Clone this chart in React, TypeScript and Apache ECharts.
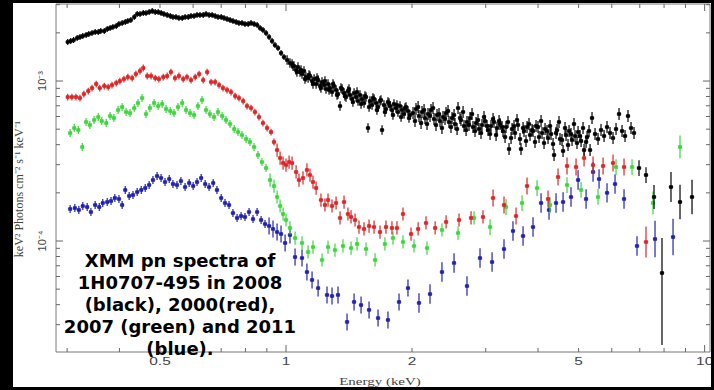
import React, { useEffect, useRef } from "react";
import * as echarts from "echarts";

// Axis extents (keV, keV^2 Photons cm^-2 s^-1 keV^-1)
const X_MIN = 0.2822;
const X_MAX = 10.3;
const Y_MIN = 2.024e-5;
const Y_MAX = 3.03e-3;
const FLUX_UNIT = 1e-4; // flux values below are in units of 1e-4

const xLabelValues = [0.5, 1, 2, 5, 10];
const xTickLabels = ["0.5", "1", "2", "5", "10"];
const xMajorTicks = [1, 10];
const xMinorTicks = [0.3, 0.4, 0.5, 0.6, 0.7, 0.8, 0.9, 2, 3, 4, 5, 6, 7, 8, 9];
const yLabelValues = [1e-3, 1e-4];
const yTickLabels = ["10\u207B\u00B3", "10\u207B\u2074"];
const yMajorTicks = [1e-4, 1e-3];
const yMinorTicks = [3e-5, 4e-5, 5e-5, 6e-5, 7e-5, 8e-5, 9e-5, 2e-4, 3e-4, 4e-4, 5e-4, 6e-4, 7e-4, 8e-4, 9e-4, 2e-3, 3e-3];

const annotation = "XMM pn spectra of\n1H0707-495 in 2008\n(black), 2000(red),\n2007 (green) and 2011\n(blue).";

// error bar size (multiplicative) per energy band: [upper energy, factor]
const blackErrBands = [[1.0, 1.045], [2.0, 1.07], [6.9, 1.09], [20, 1.13]];
const redErrBands = [[0.95, 1.05], [3.0, 1.1], [7.0, 1.13], [20, 1.25]];
const greenErrBands = [[0.9, 1.06], [3.0, 1.1], [7.0, 1.12], [20, 1.18]];
const blueErrBands = [[0.9, 1.06], [2.0, 1.13], [7.0, 1.15], [20, 1.3]];

// [energy keV, flux (1e-4), optional err up, optional err down]
const blackSpectrum = [
  [0.301,17.53],[0.306,17.78],[0.311,18.04],[0.317,18.57],[0.322,18.84],[0.327,19.11],[0.333,19.39],[0.338,19.67],
  [0.344,19.95],[0.350,20.24],[0.356,20.24],[0.361,20.54],[0.368,20.54],[0.374,21.13],[0.380,21.44],[0.386,21.76],
  [0.393,22.07],[0.399,22.71],[0.406,23.04],[0.413,23.38],[0.419,23.71],[0.426,24.06],[0.434,25.12],[0.441,26.23],
  [0.448,26.23],[0.456,26.61],[0.463,26.61],[0.471,26.99],[0.479,27.38],[0.487,26.99],[0.495,26.99],[0.503,26.61],
  [0.511,26.23],[0.520,25.86],[0.529,25.49],[0.537,25.12],[0.546,25.12],[0.555,24.76],[0.565,24.76],[0.574,25.12],
  [0.584,25.12],[0.593,25.49],[0.603,25.49],[0.613,25.86],[0.623,25.86],[0.634,25.86],[0.644,26.23],[0.655,25.86],
  [0.666,25.86],[0.677,25.49],[0.688,25.12],[0.700,25.12],[0.711,24.76],[0.723,24.41],[0.735,24.06],[0.747,23.71],
  [0.760,23.38],[0.772,23.04],[0.785,23.04],[0.798,22.71],[0.812,22.71],[0.825,23.04],[0.839,22.71],[0.853,22.39],
  [0.867,21.44],[0.881,20.84],[0.896,19.95],[0.911,18.84],[0.926,17.78],[0.941,16.79],[0.957,16.08],[0.973,14.96],
  [0.989,14.13],[1.006,13.53],[1.022,12.96],
  [1.034,12.77],[1.045,12.41],[1.057,11.72],[1.068,12.23],[1.080,11.38],[1.092,11.06],[1.104,11.55],[1.116,10.59],
  [1.129,10.44],[1.141,10.75],[1.154,10.0],[1.167,10.29],[1.180,9.577],[1.193,10.14],[1.206,9.306],[1.219,9.857],
  [1.233,9.441],[1.246,8.913],[1.260,9.577],[1.274,9.042],[1.288,8.536],[1.302,9.306],[1.317,8.786],[1.331,8.294],
  [1.346,6.978],[1.361,8.913],[1.376,8.414],[1.391,7.943],[1.406,8.660],[1.422,8.176],[1.438,7.718],[1.454,8.414],
  [1.470,7.943],[1.486,7.499],[1.502,8.176],[1.519,7.718],[1.536,7.286],[1.553,7.943],[1.570,5.085],[1.587,7.499],
  [1.605,7.079],[1.623,7.718],[1.641,7.286],[1.659,6.878],[1.677,7.499],[1.696,4.940],[1.714,7.079],[1.733,6.683],
  [1.752,7.391],[1.772,6.978],[1.791,6.588],[1.811,7.182],[1.831,6.780],[1.851,6.401],[1.872,6.978],[1.893,6.588],
  [1.914,6.219],[1.935,6.878],[1.956,6.494],[1.978,6.131],
  [2.011,6.310],[2.044,6.683],[2.078,6.043],[2.113,6.401],[2.148,5.872],[2.184,6.219],[2.220,6.588],[2.257,5.788],
  [2.295,6.131],[2.333,5.623],[2.372,5.957],[2.411,6.310],[2.451,5.543],[2.492,5.872],[2.533,5.386],[2.576,6.780],
  [2.618,5.705],[2.662,5.233],[2.706,5.543],[2.751,5.872],[2.797,5.158],[2.844,5.464],[2.891,5.012],[2.939,5.309],
  [2.988,5.623],[3.038,4.940],[3.088,5.233],[3.140,5.543],[3.192,5.085],[3.245,5.386],[3.299,4.870],[3.354,5.158],
  [3.410,3.758],[3.467,5.012],[3.524,4.732],[3.583,5.309],[3.642,3.758],[3.703,4.870],[3.765,5.158],[3.827,4.597],
  [3.891,4.870],[3.956,5.233],[4.022,4.467],[4.089,4.732],[4.157,5.012],[4.226,4.403],[4.296,4.664],[4.368,3.447],
  [4.441,4.940],[4.514,4.340],[4.590,3.652],[4.666,4.597],[4.744,4.870],[4.823,4.278],[4.903,4.532],[4.985,4.800],
  [5.068,4.217],[5.152,3.704],[5.238,4.467],[5.325,3.704],[5.383,5.872],[5.473,4.664],[5.564,4.340],[5.656,4.940],
  [5.751,4.532],[5.846,5.158],[5.943,4.732],[6.042,4.403],[6.143,5.012],[6.245,6.219],[6.349,4.870],[6.455,4.532],
  [6.561,6.043],[6.671,5.085],[6.782,4.732],
  [6.970,2.858,1.12],[7.244,2.585,1.12],[7.570,1.884,1.19],[7.910,0.631,1.655,2.82],[8.311,2.175,1.24],
  [8.734,1.753,1.28],[9.330,1.884,1.28],
];

// interleaved black bins in the 1-5.3 keV cloud
const blackSpectrumDense = [
  [1.039,12.41],[1.062,11.38],[1.086,11.72],[1.110,10.29],[1.135,10.90],[1.160,9.577],[1.186,10.44],[1.212,9.042],
  [1.239,10.0],[1.267,8.786],[1.295,9.577],[1.324,8.176],[1.353,9.042],[1.383,8.058],[1.414,8.913],[1.445,7.391],
  [1.478,8.536],[1.511,7.182],[1.544,8.058],[1.579,6.878],[1.613,7.830],[1.649,6.588],[1.686,7.607],[1.723,6.401],
  [1.762,7.286],[1.801,6.131],[1.841,7.079],[1.883,5.957],[1.924,6.780],[1.967,5.872],
  [2.033,5.623],[2.068,6.878],[2.102,5.464],[2.137,6.588],[2.172,5.386],[2.208,6.043],[2.245,6.780],[2.282,5.309],
  [2.320,6.219],[2.358,5.085],[2.398,5.788],[2.438,6.494],[2.478,5.158],[2.520,6.131],[2.562,5.012],[2.604,5.872],
  [2.648,6.401],[2.692,4.940],[2.736,5.309],[2.782,6.219],[2.828,4.870],[2.875,5.705],[2.923,4.732],[2.972,5.957],
  [3.021,5.233],[3.072,4.664],[3.123,5.788],[3.175,4.597],[3.228,5.623],[3.281,5.158],[3.336,4.467],[3.391,5.543],
  [3.448,4.403],[3.505,5.233],[3.563,5.705],[3.622,4.340],[3.683,5.085],[3.744,4.217],[3.806,5.386],[3.870,4.940],
  [3.934,4.157],[3.999,5.158],[4.067,5.623],[4.134,4.097],[4.203,4.870],[4.273,5.233],[4.344,4.038],[4.416,4.732],
  [4.489,5.543],[4.564,4.278],[4.640,5.085],[4.717,3.981],[4.795,4.664],[4.875,5.386],[4.956,4.097],[5.039,4.532],
  [5.123,5.085],[5.209,4.157],[5.295,4.870],
];

const redSpectrum = [
  [0.301,7.943],[0.308,7.943],[0.315,7.943],[0.322,7.830],[0.329,8.294],[0.337,8.660],[0.344,9.042],[0.352,9.577],
  [0.359,9.042],[0.368,9.306],[0.376,9.173],[0.384,9.441],[0.393,9.716],[0.401,10.0],[0.410,10.29],[0.419,10.59],
  [0.429,10.44],[0.438,11.06],[0.448,11.55],[0.456,12.06],[0.466,10.75],[0.476,10.75],[0.487,10.44],[0.497,10.29],
  [0.509,10.59],[0.520,10.75],[0.531,11.38],[0.543,10.44],[0.555,10.75],[0.568,10.29],[0.580,10.59],[0.593,10.14],
  [0.607,10.59],[0.620,11.06],[0.634,10.14],[0.648,11.38],[0.662,9.857],[0.677,9.857],[0.692,9.441],[0.707,9.042],
  [0.723,8.786],[0.739,8.536],[0.756,8.058],[0.772,7.830],[0.790,7.499],[0.807,6.978],[0.825,6.780],[0.843,6.401],
  [0.862,5.957],[0.881,5.464],[0.901,5.085],[0.921,4.800],[0.936,4.157],[0.952,3.704],[0.968,3.302],[0.984,3.073],
  [1.000,2.985],[1.017,3.117],[1.034,3.073],[1.057,2.700],[1.074,2.406],[1.098,2.477],[1.122,2.780],[1.141,2.585],
  [1.160,2.337],[1.180,2.144],[1.212,1.804],[1.239,1.679],[1.260,1.804],[1.288,1.655],[1.317,1.728],[1.346,1.393],
  [1.376,1.753],[1.406,1.475],[1.430,1.413],[1.462,1.353],[1.494,1.223],[1.536,1.189],[1.579,1.241],[1.623,1.223],
  [1.677,1.138],[1.733,1.223],[1.791,1.206],[1.841,1.206],[1.903,1.475],[1.989,1.106],[2.068,1.189],[2.160,1.296],
  [2.271,1.206],[2.412,1.315],[2.590,1.353],[2.767,1.393],[2.955,1.413],[3.123,1.857],[3.317,1.679],[3.544,1.433],
  [3.765,2.207],[4.226,1.831],[4.465,2.512],[4.691,2.943],[4.930,2.901],[5.152,3.302],[5.413,2.985],[5.720,2.943],
  [6.042,3.073],[6.419,2.901],[7.244,0.986],
];

const greenSpectrum = [
  [0.305,4.732],[0.312,5.085],[0.319,4.940],[0.326,3.868],[0.333,5.543],[0.340,5.309],[0.348,5.705],[0.356,5.957],
  [0.363,5.623],[0.372,5.464],[0.380,6.043],[0.388,5.872],[0.397,6.588],[0.406,6.878],[0.415,6.401],[0.424,6.310],
  [0.434,6.780],[0.443,7.286],[0.453,7.830],[0.463,6.219],[0.473,6.780],[0.484,7.286],[0.495,6.978],[0.506,7.182],
  [0.517,6.683],[0.529,6.494],[0.540,6.310],[0.552,6.878],[0.565,7.286],[0.577,6.588],[0.590,6.310],[0.603,6.131],
  [0.616,6.978],[0.630,7.607],[0.644,6.588],[0.658,6.219],[0.673,5.957],[0.688,6.401],[0.704,6.043],[0.719,5.705],
  [0.735,5.386],[0.752,5.012],[0.768,4.800],[0.785,4.597],[0.803,4.340],[0.820,4.157],[0.839,3.868],[0.857,3.447],
  [0.876,3.117],[0.896,2.858],[0.916,2.406],[0.936,2.207],[0.952,1.884],[0.968,1.655],[0.984,1.475],[1.000,1.353],
  [1.022,1.206],[1.051,1.044],[1.092,0.972],[1.129,0.854],[1.160,0.917],[1.219,0.761],[1.260,0.917],[1.309,0.878],
  [1.368,0.931],[1.430,0.904],[1.478,0.958],[1.553,0.891],[1.632,0.761],[1.723,0.958],[1.801,1.044],[1.903,0.986],
  [2.022,0.931],[2.172,0.904],[2.358,1.172],[2.576,1.122],[2.813,1.393],[3.072,1.223],[3.354,1.631],[3.663,1.728],
  [3.978,2.144],[4.273,1.679],[4.691,2.239],[5.068,2.084],[5.564,1.884],[6.143,2.901],[6.708,2.901],[7.528,1.728],
  [8.734,3.868],
];

const blueSpectrum = [
  [0.305,1.585],[0.313,1.608],[0.320,1.563],[0.327,1.655],[0.335,1.631],[0.342,1.518],[0.350,1.679],[0.358,1.631],
  [0.365,1.728],[0.374,1.753],[0.382,1.778],[0.390,1.857],[0.399,1.831],[0.406,1.679],[0.413,2.084],[0.422,1.911],
  [0.431,1.939],[0.441,2.024],[0.451,2.084],[0.461,2.144],[0.471,2.239],[0.481,2.406],[0.492,2.548],[0.503,2.477],
  [0.514,2.337],[0.526,2.441],[0.537,2.271],[0.549,2.239],[0.561,2.371],[0.574,2.175],[0.587,2.304],[0.600,2.207],
  [0.613,2.337],[0.627,2.477],[0.641,2.271],[0.655,2.175],[0.670,2.304],[0.684,2.084],[0.700,1.857],[0.715,1.728],
  [0.731,1.679],[0.747,1.496],[0.764,1.393],[0.781,1.433],[0.798,1.413],[0.816,1.518],[0.834,1.372],[0.853,1.518],
  [0.872,1.353],[0.891,1.277],[0.911,1.241],[0.931,1.189],[0.952,1.138],[0.973,1.106],[0.995,0.972],[1.022,1.090],
  [1.051,0.794],[1.092,0.783],[1.122,0.640],[1.154,0.571],[1.193,0.508],[1.253,0.460],[1.288,0.453],[1.331,0.460],
  [1.399,0.312],[1.454,0.416],[1.511,0.398],[1.579,0.371],[1.659,0.330],[1.752,0.321],[1.862,0.416],[1.956,0.508],
  [2.078,0.410],[2.208,0.466],[2.358,0.640],[2.520,0.729],[2.706,0.523],[2.907,0.783],[3.106,0.739],[3.317,0.891],
  [3.485,1.155],[3.683,1.075],[3.891,1.223],[4.067,1.728],[4.249,1.563],[4.416,1.728],[4.590,1.753],[4.795,1.884],
  [4.985,2.406],[5.209,1.831],[5.413,2.700],[5.595,2.441],[5.846,2.0],[6.109,2.271],[6.419,1.831],[6.894,0.931],
  [7.612,1.029],[8.405,1.059],
];

const seriesDefs = [
  { name: "2011", color: "#2222b0", data: blueSpectrum, bands: blueErrBands },
  { name: "2007", color: "#3ad83a", data: greenSpectrum, bands: greenErrBands },
  { name: "2000", color: "#de2424", data: redSpectrum, bands: redErrBands },
  { name: "2008", color: "#000000", data: blackSpectrum.concat(blackSpectrumDense), bands: blackErrBands },
];

function bandErr(bands: number[][], e: number) {
  for (const b of bands) if (e <= b[0]) return b[1];
  return bands[bands.length - 1][1];
}

function prep(def: any) {
  return def.data.map((p: number[]) => {
    const up = p.length > 2 ? p[2] : bandErr(def.bands, p[0]);
    const dn = p.length > 3 ? p[3] : up;
    return [p[0], p[1] * FLUX_UNIT, up, dn];
  });
}

function spectrumRender(color: string) {
  return (params: any, api: any) => {
    const e = api.value(0);
    const f = api.value(1);
    const up = api.value(2);
    const dn = api.value(3);
    const c = api.coord([e, f]);
    const t = api.coord([e, f * up]);
    const b = api.coord([e, f / dn]);
    return {
      type: "group",
      children: [
        { type: "line", shape: { x1: c[0], y1: t[1], x2: c[0], y2: b[1] }, style: { stroke: color, lineWidth: 1.2 } },
        { type: "line", shape: { x1: c[0] - 2.2, y1: c[1], x2: c[0] + 2.2, y2: c[1] }, style: { stroke: color, lineWidth: 1.2 } },
        { type: "rect", shape: { x: c[0] - 1.8, y: c[1] - 1.8, width: 3.6, height: 3.6 }, style: { fill: color } },
      ],
    };
  };
}

const TICK_COLOR = "#666";
const LABEL_COLOR = "#444";

export default function App() {
  const ref = useRef<HTMLDivElement>(null);
  useEffect(() => {
    if (!ref.current) return;
    const chart = echarts.init(ref.current, undefined, { renderer: "svg" });

    const xTickData = [
      ...xMajorTicks.map((v) => [v, Y_MIN, 7]),
      ...xMinorTicks.map((v) => [v, Y_MIN, 4]),
    ];
    const yTickData = [
      ...yMajorTicks.map((v) => [X_MIN, v, 7]),
      ...yMinorTicks.map((v) => [X_MIN, v, 4]),
    ];

    const dataSeries = seriesDefs.map((d) => ({
      type: "custom",
      name: d.name,
      coordinateSystem: "cartesian2d",
      data: prep(d),
      encode: { x: 0, y: 1 },
      renderItem: spectrumRender(d.color),
      clip: true,
      z: 2,
    }));

    chart.setOption({
      animation: false,
      backgroundColor: "#ffffff",
      grid: { left: 56, right: 4, top: 4, bottom: 38, show: true, borderColor: "#777", borderWidth: 1, backgroundColor: "transparent" },
      xAxis: {
        type: "log", logBase: 10, min: X_MIN, max: X_MAX,
        axisLine: { show: false }, axisTick: { show: false }, axisLabel: { show: false }, splitLine: { show: false },
      },
      yAxis: {
        type: "log", logBase: 10, min: Y_MIN, max: Y_MAX,
        axisLine: { show: false }, axisTick: { show: false }, axisLabel: { show: false }, splitLine: { show: false },
      },
      series: [
        ...dataSeries,
        {
          type: "custom", name: "xticks", coordinateSystem: "cartesian2d", data: xTickData, encode: { x: 0, y: 1 },
          renderItem: (params: any, api: any) => {
            const cs = params.coordSys;
            const x = api.coord([api.value(0), Y_MIN])[0];
            const len = api.value(2);
            const bottom = cs.y + cs.height;
            return {
              type: "group",
              children: [
                { type: "line", shape: { x1: x, y1: bottom, x2: x, y2: bottom - len }, style: { stroke: TICK_COLOR, lineWidth: 1 } },
                { type: "line", shape: { x1: x, y1: cs.y, x2: x, y2: cs.y + len }, style: { stroke: TICK_COLOR, lineWidth: 1 } },
              ],
            };
          },
          z: 3,
        },
        {
          type: "custom", name: "yticks", coordinateSystem: "cartesian2d", data: yTickData, encode: { x: 0, y: 1 },
          renderItem: (params: any, api: any) => {
            const cs = params.coordSys;
            const y = api.coord([X_MIN, api.value(1)])[1];
            const len = api.value(2);
            const right = cs.x + cs.width;
            return {
              type: "group",
              children: [
                { type: "line", shape: { x1: cs.x, y1: y, x2: cs.x + len, y2: y }, style: { stroke: TICK_COLOR, lineWidth: 1 } },
                { type: "line", shape: { x1: right, y1: y, x2: right - len, y2: y }, style: { stroke: TICK_COLOR, lineWidth: 1 } },
              ],
            };
          },
          z: 3,
        },
        {
          type: "custom", name: "xlabels", coordinateSystem: "cartesian2d",
          data: xLabelValues.map((v) => [v, Y_MIN]), encode: { x: 0, y: 1 },
          renderItem: (params: any, api: any) => {
            const cs = params.coordSys;
            const x = api.coord([api.value(0), Y_MIN])[0];
            return {
              type: "text", x, y: cs.y + cs.height + 9, scaleX: 1.4,
              style: { text: xTickLabels[params.dataIndex], font: '11px "Liberation Sans"', fill: LABEL_COLOR, align: "center", verticalAlign: "middle" },
            };
          },
          z: 3,
        },
        {
          type: "custom", name: "ylabels", coordinateSystem: "cartesian2d",
          data: yLabelValues.map((v) => [X_MIN, v]), encode: { x: 0, y: 1 },
          renderItem: (params: any, api: any) => {
            const cs = params.coordSys;
            const y = api.coord([X_MIN, api.value(1)])[1];
            return {
              type: "text", x: cs.x - 14, y, rotation: Math.PI / 2,
              style: { text: yTickLabels[params.dataIndex], font: '11px "Liberation Sans"', fill: LABEL_COLOR, align: "center", verticalAlign: "middle" },
            };
          },
          z: 3,
        },
      ],
      graphic: [
        {
          type: "text", x: 19, y: 189, rotation: Math.PI / 2,
          style: { text: "keV\u00B2 Photons cm\u207B\u00B2 s\u207B\u00B9 keV\u207B\u00B9", font: '12px "Liberation Serif"', fill: LABEL_COLOR, align: "center", verticalAlign: "middle" },
          z: 50,
        },
        {
          type: "text", x: 380, y: 382, scaleX: 1.5,
          style: { text: "Energy (keV)", font: '10px "Liberation Serif"', fill: LABEL_COLOR, align: "center", verticalAlign: "middle" },
          z: 50,
        },
        {
          type: "text", x: 180, y: 249,
          style: { text: annotation, font: 'bold 18px "DejaVu Sans"', fill: "#000", align: "center", verticalAlign: "top", lineHeight: 22 },
          z: 100,
        },
        { type: "rect", shape: { x: 0, y: 0, width: 13, height: 390 }, style: { fill: "#000" }, z: 110 },
        { type: "rect", shape: { x: 0, y: 0, width: 714, height: 3 }, style: { fill: "#000" }, z: 110 },
        { type: "rect", shape: { x: 711, y: 0, width: 3, height: 390 }, style: { fill: "#000" }, z: 110 },
        { type: "rect", shape: { x: 0, y: 387, width: 714, height: 3 }, style: { fill: "#000" }, z: 110 },
      ],
    });
    return () => chart.dispose();
  }, []);
  return <div ref={ref} style={{ position: "fixed", left: 0, top: 0, width: 714, height: 390 }} />;
}
